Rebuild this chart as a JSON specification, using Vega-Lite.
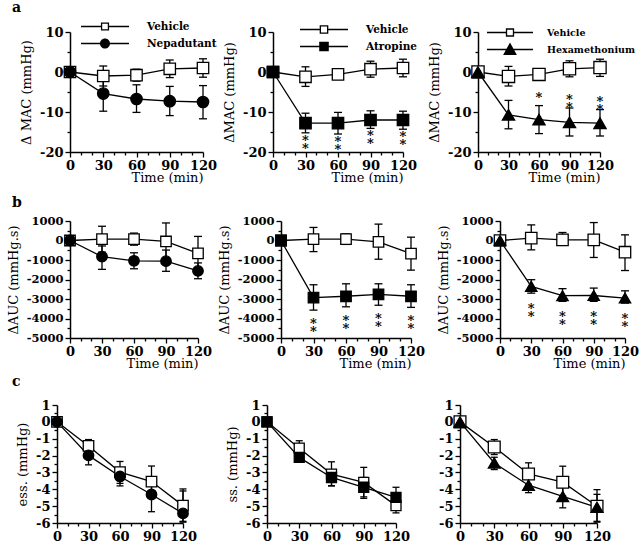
{
"$schema":"https://vega.github.io/schema/vega-lite/v6.json",
"autosize":{"type":"none"},
"padding":{"left":26,"top":32,"right":614,"bottom":518},
"background":"white",
"config":{
 "view":{"stroke":null},
 "font":"DejaVu Serif",
 "axis":{"domainColor":"black","domainWidth":1.5,"tickColor":"black","tickWidth":1.3,"labelColor":"black","labelFont":"DejaVu Serif","labelFontWeight":"bold","labelFontSize":13,"titleFont":"DejaVu Serif","titleFontWeight":"normal","titleFontSize":13,"titleColor":"black","grid":false,"labelOverlap":false,"labelPadding":2,"labelFlush":false},
 "axisY":{"titlePadding":6},
 "title":{"color":"black"},
 "legend":{"title":null,"orient":"none","padding":0,"labelFont":"DejaVu Serif","labelFontWeight":"bold","labelFontSize":10.5,"labelColor":"black","symbolOpacity":1,"symbolSize":2304,"clipHeight":15,"rowPadding":2}
},
"datasets":{
"a1":[
{"t":0,"s":"Vehicle","m":0,"lo":null,"hi":null},
{"t":30,"s":"Vehicle","m":-1.0,"lo":-3.5,"hi":1.5},
{"t":60,"s":"Vehicle","m":-0.8,"lo":-2.3,"hi":0.7},
{"t":90,"s":"Vehicle","m":0.8,"lo":-1.4,"hi":3.0},
{"t":120,"s":"Vehicle","m":1.0,"lo":-1.3,"hi":3.3},
{"t":0,"s":"Nepadutant","m":0,"lo":null,"hi":null},
{"t":30,"s":"Nepadutant","m":-5.4,"lo":-9.8,"hi":-1.0},
{"t":60,"s":"Nepadutant","m":-6.75,"lo":-10.1,"hi":-3.2},
{"t":90,"s":"Nepadutant","m":-7.3,"lo":-10.9,"hi":-3.6},
{"t":120,"s":"Nepadutant","m":-7.5,"lo":-11.7,"hi":-3.4}
],
"a2":[
{"t":0,"s":"Vehicle","m":0,"lo":null,"hi":null,"sig":""},
{"t":30,"s":"Vehicle","m":-1.2,"lo":-3.6,"hi":1.3,"sig":""},
{"t":60,"s":"Vehicle","m":-0.6,"lo":-1.8,"hi":0.6,"sig":""},
{"t":90,"s":"Vehicle","m":0.7,"lo":-1.3,"hi":2.7,"sig":""},
{"t":120,"s":"Vehicle","m":1.0,"lo":-1.2,"hi":3.2,"sig":""},
{"t":0,"s":"Atropine","m":0,"lo":null,"hi":null,"sig":""},
{"t":30,"s":"Atropine","m":-12.8,"lo":-15.2,"hi":-10.3,"sig":"*\n*"},
{"t":60,"s":"Atropine","m":-12.8,"lo":-15.5,"hi":-10.1,"sig":"*\n*"},
{"t":90,"s":"Atropine","m":-12.0,"lo":-14.1,"hi":-9.7,"sig":"*\n*"},
{"t":120,"s":"Atropine","m":-12.0,"lo":-14.3,"hi":-9.8,"sig":"*\n*"}
],
"a3":[
{"t":0,"s":"Vehicle","m":0,"lo":null,"hi":null,"sig":""},
{"t":30,"s":"Vehicle","m":-1.1,"lo":-3.5,"hi":1.4,"sig":""},
{"t":60,"s":"Vehicle","m":-0.6,"lo":-1.4,"hi":0.2,"sig":""},
{"t":90,"s":"Vehicle","m":0.8,"lo":-1.2,"hi":2.8,"sig":""},
{"t":120,"s":"Vehicle","m":1.1,"lo":-1.1,"hi":3.2,"sig":""},
{"t":0,"s":"Hexamethonium","m":0,"lo":null,"hi":null,"sig":""},
{"t":30,"s":"Hexamethonium","m":-10.7,"lo":-14.2,"hi":-7.1,"sig":""},
{"t":60,"s":"Hexamethonium","m":-11.9,"lo":-15.4,"hi":-8.4,"sig":"*"},
{"t":90,"s":"Hexamethonium","m":-12.6,"lo":-16.0,"hi":-9.0,"sig":"*\n*"},
{"t":120,"s":"Hexamethonium","m":-12.8,"lo":-16.0,"hi":-9.4,"sig":"*\n*"}
],
"b1":[
{"t":0,"s":"Vehicle","m":0,"lo":null,"hi":null},
{"t":30,"s":"Vehicle","m":70,"lo":-600,"hi":730},
{"t":60,"s":"Vehicle","m":70,"lo":-240,"hi":380},
{"t":90,"s":"Vehicle","m":-50,"lo":-1000,"hi":900},
{"t":120,"s":"Vehicle","m":-660,"lo":-1450,"hi":210},
{"t":0,"s":"Nepadutant","m":0,"lo":null,"hi":null},
{"t":30,"s":"Nepadutant","m":-830,"lo":-1480,"hi":-280},
{"t":60,"s":"Nepadutant","m":-1040,"lo":-1450,"hi":-630},
{"t":90,"s":"Nepadutant","m":-1060,"lo":-1580,"hi":-490},
{"t":120,"s":"Nepadutant","m":-1560,"lo":-1960,"hi":-1150}
],
"b2":[
{"t":0,"s":"Vehicle","m":0,"lo":null,"hi":null,"sig":""},
{"t":30,"s":"Vehicle","m":70,"lo":-570,"hi":670,"sig":""},
{"t":60,"s":"Vehicle","m":70,"lo":-200,"hi":340,"sig":""},
{"t":90,"s":"Vehicle","m":-70,"lo":-960,"hi":840,"sig":""},
{"t":120,"s":"Vehicle","m":-670,"lo":-1520,"hi":170,"sig":""},
{"t":0,"s":"Atropine","m":0,"lo":null,"hi":null,"sig":""},
{"t":30,"s":"Atropine","m":-2930,"lo":-3570,"hi":-2270,"sig":"*\n*"},
{"t":60,"s":"Atropine","m":-2860,"lo":-3400,"hi":-2220,"sig":"*\n*"},
{"t":90,"s":"Atropine","m":-2760,"lo":-3320,"hi":-2220,"sig":"*\n*"},
{"t":120,"s":"Atropine","m":-2860,"lo":-3430,"hi":-2270,"sig":"*\n*"}
],
"b3":[
{"t":0,"s":"Vehicle","m":0,"lo":null,"hi":null,"sig":""},
{"t":30,"s":"Vehicle","m":120,"lo":-480,"hi":800,"sig":""},
{"t":60,"s":"Vehicle","m":30,"lo":-220,"hi":410,"sig":""},
{"t":90,"s":"Vehicle","m":30,"lo":-870,"hi":920,"sig":""},
{"t":120,"s":"Vehicle","m":-600,"lo":-1540,"hi":290,"sig":""},
{"t":0,"s":"Hexamethonium","m":0,"lo":null,"hi":null,"sig":""},
{"t":30,"s":"Hexamethonium","m":-2350,"lo":-2700,"hi":-2010,"sig":"*\n*"},
{"t":60,"s":"Hexamethonium","m":-2830,"lo":-3120,"hi":-2470,"sig":"*\n*"},
{"t":90,"s":"Hexamethonium","m":-2820,"lo":-3120,"hi":-2440,"sig":"*\n*"},
{"t":120,"s":"Hexamethonium","m":-2950,"lo":-3210,"hi":-2580,"sig":"*\n*"}
],
"c1":[
{"t":0,"s":"Vehicle","m":0,"lo":null,"hi":null},
{"t":30,"s":"Vehicle","m":-1.43,"lo":-1.85,"hi":-1.05},
{"t":60,"s":"Vehicle","m":-2.98,"lo":-3.65,"hi":-2.35},
{"t":90,"s":"Vehicle","m":-3.54,"lo":-4.3,"hi":-2.62},
{"t":120,"s":"Vehicle","m":-4.97,"lo":-5.9,"hi":-3.98},
{"t":0,"s":"Nepadutant","m":0,"lo":null,"hi":null},
{"t":30,"s":"Nepadutant","m":-1.99,"lo":-2.55,"hi":-1.6},
{"t":60,"s":"Nepadutant","m":-3.24,"lo":-3.8,"hi":-2.8},
{"t":90,"s":"Nepadutant","m":-4.31,"lo":-5.33,"hi":-3.3},
{"t":120,"s":"Nepadutant","m":-5.43,"lo":-5.95,"hi":-4.1}
],
"c2":[
{"t":0,"s":"Vehicle","m":0,"lo":null,"hi":null},
{"t":30,"s":"Vehicle","m":-1.56,"lo":-2.0,"hi":-1.12},
{"t":60,"s":"Vehicle","m":-3.1,"lo":-3.8,"hi":-2.37},
{"t":90,"s":"Vehicle","m":-3.59,"lo":-4.45,"hi":-2.7},
{"t":120,"s":"Vehicle","m":-4.97,"lo":-5.4,"hi":-4.2},
{"t":0,"s":"Atropine","m":0,"lo":null,"hi":null},
{"t":30,"s":"Atropine","m":-2.11,"lo":-2.3,"hi":-1.9},
{"t":60,"s":"Atropine","m":-3.3,"lo":-3.79,"hi":-2.9},
{"t":90,"s":"Atropine","m":-3.88,"lo":-4.54,"hi":-3.3},
{"t":120,"s":"Atropine","m":-4.48,"lo":-5.0,"hi":-3.88}
],
"c3":[
{"t":0,"s":"Vehicle","m":0,"lo":null,"hi":null},
{"t":30,"s":"Vehicle","m":-1.49,"lo":-1.94,"hi":-1.05},
{"t":60,"s":"Vehicle","m":-3.09,"lo":-3.7,"hi":-2.43},
{"t":90,"s":"Vehicle","m":-3.58,"lo":-4.4,"hi":-2.63},
{"t":120,"s":"Vehicle","m":-5.01,"lo":-5.95,"hi":-4.02},
{"t":0,"s":"Hexamethonium","m":0,"lo":null,"hi":null},
{"t":30,"s":"Hexamethonium","m":-2.44,"lo":-2.83,"hi":-2.1},
{"t":60,"s":"Hexamethonium","m":-3.76,"lo":-4.2,"hi":-3.35},
{"t":90,"s":"Hexamethonium","m":-4.42,"lo":-5.1,"hi":-3.85},
{"t":120,"s":"Hexamethonium","m":-5.07,"lo":-5.9,"hi":-4.3}
]
},
"spacing":12,
"resolve":{"scale":{"shape":"independent"},"legend":{"shape":"independent"}},
"vconcat":[
{"spacing":30,"bounds":"flush",
 "resolve":{"scale":{"shape":"independent"},"legend":{"shape":"independent"}},
 "hconcat":[
 {"width":14,"height":1,"data":{"values":[]},"mark":"point"},
 {"width":133,"height":120,"data":{"name":"a1"},
   "title":{"text":"a","anchor":"start","frame":"group","dx":-58,"fontSize":14,"font":"DejaVu Serif","fontWeight":"bold","offset":4},
   "resolve":{"axis":{"y":"independent"},"scale":{"shape":"independent"},"legend":{"shape":"independent"}},
   "encoding":{"x":{"field":"t","type":"quantitative","scale":{"domain":[0,120],"nice":false},"axis":{"values":[0,10,20,30,40,50,60,70,80,90,100,110,120],"labelOverlap":false,"labelExpr":"datum.value % 30 === 0 ? datum.label : ''","tickSize":{"condition":{"test":"datum.value % 30 === 0","value":5},"value":3},"title":"Time (min)","titleAnchor":"end","titlePadding":-1}}},
   "layer":[
    {"mark":{"type":"line","color":"black","strokeWidth":1.3},"encoding":{"y":{"field":"m","type":"quantitative","title":"Δ MAC (mmHg)","scale":{"domain":[-20,10],"nice":false,"zero":false},"axis":{"values":[-20,-10,0,10],"labelExpr":"'' + datum.value","tickSize":5,"orient":"left"}},"detail":{"field":"s"}}},
    {"transform":[{"filter":"datum.lo != null"}],"mark":{"type":"rule","color":"black","strokeWidth":1.3},"encoding":{"y":{"field":"lo","type":"quantitative","axis":{"values":[-15,-5,5],"labels":false,"domain":false,"tickSize":3,"title":null,"orient":"left"}},"y2":{"field":"hi"}}},
    {"transform":[{"filter":"datum.lo != null"}],"mark":{"type":"tick","orient":"horizontal","color":"black","size":8,"thickness":1.3,"opacity":1},"encoding":{"y":{"field":"lo","type":"quantitative","axis":null}}},
    {"transform":[{"filter":"datum.hi != null"}],"mark":{"type":"tick","orient":"horizontal","color":"black","size":8,"thickness":1.3,"opacity":1},"encoding":{"y":{"field":"hi","type":"quantitative","axis":null}}},
    {"mark":{"type":"point","filled":false,"opacity":1,"stroke":"black","strokeWidth":1.3,"size":130},"encoding":{"y":{"field":"m","type":"quantitative","axis":null},
      "shape":{"field":"s","type":"nominal","scale":{"domain":["Vehicle","Nepadutant"],"range":["square","circle"]},"legend":null},
      "fill":{"condition":{"test":"datum.s === 'Vehicle'","value":"white"},"value":"black"}}},
    {"transform":[{"filter":"datum.t < 0"}],"mark":{"type":"point","filled":true,"color":"black","opacity":1,"size":2304},"encoding":{"y":{"field":"m","type":"quantitative","axis":null},
      "shape":{"field":"s","type":"nominal","scale":{"domain":["Vehicle","Nepadutant"],"range":["M-1,-0.027H-0.17V0.027H-1ZM0.17,-0.027H1V0.027H0.17ZM-0.17,-0.17H0.17V0.17H-0.17ZM-0.116,-0.116V0.116H0.116V-0.116Z","M-1,-0.027H-0.2V0.027H-1ZM0.2,-0.027H1V0.027H0.2ZM0.21,0A0.21,0.21 0 1,1 -0.21,0A0.21,0.21 0 1,1 0.21,0Z"]},
        "legend":{"legendX":10,"legendY":-13,"labelOffset":17,"symbolSize":2304,"symbolOpacity":1}}}}
   ]},
 {"width":10,"height":1,"data":{"values":[]},"mark":"point"},
 {"width":130,"height":120,"data":{"name":"a2"},
   "resolve":{"axis":{"y":"independent"},"scale":{"shape":"independent"},"legend":{"shape":"independent"}},
    "encoding":{"x":{"field":"t","type":"quantitative","scale":{"domain":[0,120],"nice":false},"axis":{"values":[0,10,20,30,40,50,60,70,80,90,100,110,120],"labelOverlap":false,"labelExpr":"datum.value % 30 === 0 ? datum.label : ''","tickSize":{"condition":{"test":"datum.value % 30 === 0","value":5},"value":3},"title":"Time (min)","titleAnchor":"end","titlePadding":-1}}},
    "layer":[
     {"mark":{"type":"line","color":"black","strokeWidth":1.3},"encoding":{"y":{"field":"m","type":"quantitative","title":"ΔMAC (mmHg)","scale":{"domain":[-20,10],"nice":false,"zero":false},"axis":{"values":[-20,-10,0,10],"labelExpr":"'' + datum.value","tickSize":5,"orient":"left"}},"detail":{"field":"s"}}},
     {"transform":[{"filter":"datum.lo != null"}],"mark":{"type":"rule","color":"black","strokeWidth":1.3},"encoding":{"y":{"field":"lo","type":"quantitative","axis":{"values":[-15,-5,5],"labels":false,"domain":false,"tickSize":3,"title":null,"orient":"left"}},"y2":{"field":"hi"}}},
     {"transform":[{"filter":"datum.lo != null"}],"mark":{"type":"tick","orient":"horizontal","color":"black","size":8,"thickness":1.3,"opacity":1},"encoding":{"y":{"field":"lo","type":"quantitative","axis":null}}},
     {"transform":[{"filter":"datum.hi != null"}],"mark":{"type":"tick","orient":"horizontal","color":"black","size":8,"thickness":1.3,"opacity":1},"encoding":{"y":{"field":"hi","type":"quantitative","axis":null}}},
     {"mark":{"type":"point","filled":false,"opacity":1,"stroke":"black","strokeWidth":1.3,"size":130},"encoding":{"y":{"field":"m","type":"quantitative","axis":null},
       "shape":{"field":"s","type":"nominal","scale":{"domain":["Vehicle","Atropine"],"range":["square","square"]},"legend":null},
       "fill":{"condition":{"test":"datum.s === 'Vehicle'","value":"white"},"value":"black"}}},
     {"transform":[{"filter":"datum.sig != null && datum.sig != ''"}],"mark":{"type":"text","baseline":"top","dy":2,"fontSize":13,"font":"DejaVu Serif","fontWeight":"bold","lineBreak":"\n","lineHeight":8,"fill":"black"},"encoding":{"y":{"field":"lo","type":"quantitative","axis":null},"text":{"field":"sig"}}},
     {"transform":[{"filter":"datum.t < 0"}],"mark":{"type":"point","filled":true,"color":"black","opacity":1,"size":2304},"encoding":{"y":{"field":"m","type":"quantitative","axis":null},
       "shape":{"field":"s","type":"nominal","scale":{"domain":["Vehicle","Atropine"],"range":["M-1,-0.027H-0.18V0.027H-1ZM0.18,-0.027H1V0.027H0.18ZM-0.18,-0.18H0.18V0.18H-0.18ZM-0.126,-0.126V0.126H0.126V-0.126Z","M-1,-0.027H-0.18V0.027H-1ZM0.18,-0.027H1V0.027H0.18ZM-0.2,-0.2H0.2V0.2H-0.2Z"]},
         "legend":{"legendX":26,"legendY":-10,"labelOffset":17,"symbolSize":2304,"symbolOpacity":1}}}}
    ]},
 {"width":15,"height":1,"data":{"values":[]},"mark":"point"},
 {"width":122,"height":120,"data":{"name":"a3"},
   "resolve":{"axis":{"y":"independent"},"scale":{"shape":"independent"},"legend":{"shape":"independent"}},
    "encoding":{"x":{"field":"t","type":"quantitative","scale":{"domain":[0,120],"nice":false},"axis":{"values":[0,10,20,30,40,50,60,70,80,90,100,110,120],"labelOverlap":false,"labelExpr":"datum.value % 30 === 0 ? datum.label : ''","tickSize":{"condition":{"test":"datum.value % 30 === 0","value":5},"value":3},"title":"Time (min)","titleAnchor":"end","titlePadding":-1}}},
    "layer":[
     {"mark":{"type":"line","color":"black","strokeWidth":1.3},"encoding":{"y":{"field":"m","type":"quantitative","title":"ΔMAC (mmHg)","scale":{"domain":[-20,10],"nice":false,"zero":false},"axis":{"values":[-20,-10,0,10],"labelExpr":"'' + datum.value","tickSize":5,"orient":"left"}},"detail":{"field":"s"}}},
     {"transform":[{"filter":"datum.lo != null"}],"mark":{"type":"rule","color":"black","strokeWidth":1.3},"encoding":{"y":{"field":"lo","type":"quantitative","axis":{"values":[-15,-5,5],"labels":false,"domain":false,"tickSize":3,"title":null,"orient":"left"}},"y2":{"field":"hi"}}},
     {"transform":[{"filter":"datum.lo != null"}],"mark":{"type":"tick","orient":"horizontal","color":"black","size":8,"thickness":1.3,"opacity":1},"encoding":{"y":{"field":"lo","type":"quantitative","axis":null}}},
     {"transform":[{"filter":"datum.hi != null"}],"mark":{"type":"tick","orient":"horizontal","color":"black","size":8,"thickness":1.3,"opacity":1},"encoding":{"y":{"field":"hi","type":"quantitative","axis":null}}},
     {"mark":{"type":"point","filled":false,"opacity":1,"stroke":"black","strokeWidth":1.3,"size":150},"encoding":{"y":{"field":"m","type":"quantitative","axis":null},
       "shape":{"field":"s","type":"nominal","scale":{"domain":["Vehicle","Hexamethonium"],"range":["square","triangle-up"]},"legend":null},
       "fill":{"condition":{"test":"datum.s === 'Vehicle'","value":"white"},"value":"black"}}},
     {"transform":[{"filter":"datum.sig != null && datum.sig != ''"}],"mark":{"type":"text","baseline":"bottom","dy":-1,"fontSize":13,"font":"DejaVu Serif","fontWeight":"bold","lineBreak":"\n","lineHeight":8,"fill":"black"},"encoding":{"y":{"field":"hi","type":"quantitative","axis":null},"text":{"field":"sig"}}},
     {"transform":[{"filter":"datum.t < 0"}],"mark":{"type":"point","filled":true,"color":"black","opacity":1,"size":2116},"encoding":{"y":{"field":"m","type":"quantitative","axis":null},
       "shape":{"field":"s","type":"nominal","scale":{"domain":["Vehicle","Hexamethonium"],"range":["M-1,-0.028H-0.18V0.028H-1ZM0.18,-0.028H1V0.028H0.18ZM-0.18,-0.18H0.18V0.18H-0.18ZM-0.123,-0.123V0.123H0.123V-0.123Z","M-1,-0.028H-0.1V0.028H-1ZM0.1,-0.028H1V0.028H0.1ZM0,-0.3L0.3,0.24L-0.3,0.24Z"]},
         "legend":{"legendX":8,"legendY":-7,"labelOffset":13,"symbolSize":2116,"symbolOpacity":1,"labelFontSize":9.5}}}}
    ]}
 ]},
{"spacing":5,
 "resolve":{"scale":{"shape":"independent"},"legend":{"shape":"independent"}},
 "vconcat":[
{"spacing":30,"bounds":"flush",
 "resolve":{"scale":{"shape":"independent"},"legend":{"shape":"independent"}},
 "hconcat":[
 {"width":14,"height":1,"data":{"values":[]},"mark":"point"},
 {"width":128,"height":117,"data":{"name":"b1"},
   "title":{"text":"b","anchor":"start","frame":"group","dx":-58,"fontSize":14,"font":"DejaVu Serif","fontWeight":"bold","offset":5},
   "resolve":{"axis":{"y":"independent"}},
   "encoding":{"x":{"field":"t","type":"quantitative","scale":{"domain":[0,120],"nice":false},"axis":{"values":[0,10,20,30,40,50,60,70,80,90,100,110,120],"labelOverlap":false,"labelExpr":"datum.value % 30 === 0 ? datum.label : ''","tickSize":{"condition":{"test":"datum.value % 30 === 0","value":5},"value":3},"title":"Time (min)","titleAnchor":"end","titlePadding":-1}}},
   "layer":[
    {"mark":{"type":"line","color":"black","strokeWidth":1.3},"encoding":{"y":{"field":"m","type":"quantitative","title":"ΔAUC (mmHg.s)","scale":{"domain":[-5000,1000],"nice":false,"zero":false},"axis":{"values":[-5000,-4000,-3000,-2000,-1000,0,1000],"labelExpr":"'' + datum.value","labelFontSize":11.5,"tickSize":5,"orient":"left"}},"detail":{"field":"s"}}},
    {"transform":[{"filter":"datum.lo != null"}],"mark":{"type":"rule","color":"black","strokeWidth":1.3},"encoding":{"y":{"field":"lo","type":"quantitative","axis":{"values":[-4500,-3500,-2500,-1500,-500,500],"labels":false,"domain":false,"tickSize":3,"title":null,"orient":"left"}},"y2":{"field":"hi"}}},
    {"transform":[{"filter":"datum.lo != null"}],"mark":{"type":"tick","orient":"horizontal","color":"black","size":8,"thickness":1.3,"opacity":1},"encoding":{"y":{"field":"lo","type":"quantitative","axis":null}}},
    {"transform":[{"filter":"datum.hi != null"}],"mark":{"type":"tick","orient":"horizontal","color":"black","size":8,"thickness":1.3,"opacity":1},"encoding":{"y":{"field":"hi","type":"quantitative","axis":null}}},
    {"mark":{"type":"point","filled":false,"opacity":1,"stroke":"black","strokeWidth":1.3,"size":110},"encoding":{"y":{"field":"m","type":"quantitative","axis":null},
      "shape":{"field":"s","type":"nominal","scale":{"domain":["Vehicle","Nepadutant"],"range":["square","circle"]},"legend":null},
      "fill":{"condition":{"test":"datum.s === 'Vehicle'","value":"white"},"value":"black"}}}
   ]},
 {"width":23,"height":1,"data":{"values":[]},"mark":"point"},
 {"width":130,"height":117,"data":{"name":"b2"},
   "resolve":{"axis":{"y":"independent"}},
    "encoding":{"x":{"field":"t","type":"quantitative","scale":{"domain":[0,120],"nice":false},"axis":{"values":[0,10,20,30,40,50,60,70,80,90,100,110,120],"labelOverlap":false,"labelExpr":"datum.value % 30 === 0 ? datum.label : ''","tickSize":{"condition":{"test":"datum.value % 30 === 0","value":5},"value":3},"title":"Time (min)","titleAnchor":"end","titlePadding":-1}}},
    "layer":[
     {"mark":{"type":"line","color":"black","strokeWidth":1.3},"encoding":{"y":{"field":"m","type":"quantitative","title":"ΔAUC (mmHg.s)","scale":{"domain":[-5000,1000],"nice":false,"zero":false},"axis":{"values":[-5000,-4000,-3000,-2000,-1000,0,1000],"labelExpr":"'' + datum.value","labelFontSize":11.5,"tickSize":5,"orient":"left"}},"detail":{"field":"s"}}},
     {"transform":[{"filter":"datum.lo != null"}],"mark":{"type":"rule","color":"black","strokeWidth":1.3},"encoding":{"y":{"field":"lo","type":"quantitative","axis":{"values":[-4500,-3500,-2500,-1500,-500,500],"labels":false,"domain":false,"tickSize":3,"title":null,"orient":"left"}},"y2":{"field":"hi"}}},
     {"transform":[{"filter":"datum.lo != null"}],"mark":{"type":"tick","orient":"horizontal","color":"black","size":8,"thickness":1.3,"opacity":1},"encoding":{"y":{"field":"lo","type":"quantitative","axis":null}}},
     {"transform":[{"filter":"datum.hi != null"}],"mark":{"type":"tick","orient":"horizontal","color":"black","size":8,"thickness":1.3,"opacity":1},"encoding":{"y":{"field":"hi","type":"quantitative","axis":null}}},
     {"mark":{"type":"point","filled":false,"opacity":1,"stroke":"black","strokeWidth":1.3,"size":110},"encoding":{"y":{"field":"m","type":"quantitative","axis":null},
       "shape":{"field":"s","type":"nominal","scale":{"domain":["Vehicle","Atropine"],"range":["square","square"]},"legend":null},
       "fill":{"condition":{"test":"datum.s === 'Vehicle'","value":"white"},"value":"black"}}},
     {"transform":[{"filter":"datum.sig != null && datum.sig != ''"}],"mark":{"type":"text","baseline":"top","dy":8,"fontSize":13,"font":"DejaVu Serif","fontWeight":"bold","lineBreak":"\n","lineHeight":8,"fill":"black"},"encoding":{"y":{"field":"lo","type":"quantitative","axis":null},"text":{"field":"sig"}}}
    ]},
 {"width":29,"height":1,"data":{"values":[]},"mark":"point"},
 {"width":125,"height":117,"data":{"name":"b3"},
   "resolve":{"axis":{"y":"independent"}},
    "encoding":{"x":{"field":"t","type":"quantitative","scale":{"domain":[0,120],"nice":false},"axis":{"values":[0,10,20,30,40,50,60,70,80,90,100,110,120],"labelOverlap":false,"labelExpr":"datum.value % 30 === 0 ? datum.label : ''","tickSize":{"condition":{"test":"datum.value % 30 === 0","value":5},"value":3},"title":"Time (min)","titleAnchor":"end","titlePadding":-1}}},
    "layer":[
     {"mark":{"type":"line","color":"black","strokeWidth":1.3},"encoding":{"y":{"field":"m","type":"quantitative","title":"ΔAUC (mmHg.s)","scale":{"domain":[-5000,1000],"nice":false,"zero":false},"axis":{"values":[-5000,-4000,-3000,-2000,-1000,0,1000],"labelExpr":"'' + datum.value","labelFontSize":11.5,"tickSize":5,"orient":"left"}},"detail":{"field":"s"}}},
     {"transform":[{"filter":"datum.lo != null"}],"mark":{"type":"rule","color":"black","strokeWidth":1.3},"encoding":{"y":{"field":"lo","type":"quantitative","axis":{"values":[-4500,-3500,-2500,-1500,-500,500],"labels":false,"domain":false,"tickSize":3,"title":null,"orient":"left"}},"y2":{"field":"hi"}}},
     {"transform":[{"filter":"datum.lo != null"}],"mark":{"type":"tick","orient":"horizontal","color":"black","size":8,"thickness":1.3,"opacity":1},"encoding":{"y":{"field":"lo","type":"quantitative","axis":null}}},
     {"transform":[{"filter":"datum.hi != null"}],"mark":{"type":"tick","orient":"horizontal","color":"black","size":8,"thickness":1.3,"opacity":1},"encoding":{"y":{"field":"hi","type":"quantitative","axis":null}}},
     {"mark":{"type":"point","filled":false,"opacity":1,"stroke":"black","strokeWidth":1.3,"size":130},"encoding":{"y":{"field":"m","type":"quantitative","axis":null},
       "shape":{"field":"s","type":"nominal","scale":{"domain":["Vehicle","Hexamethonium"],"range":["square","triangle-up"]},"legend":null},
       "fill":{"condition":{"test":"datum.s === 'Vehicle'","value":"white"},"value":"black"}}},
     {"transform":[{"filter":"datum.sig != null && datum.sig != ''"}],"mark":{"type":"text","baseline":"top","dy":10,"fontSize":13,"font":"DejaVu Serif","fontWeight":"bold","lineBreak":"\n","lineHeight":8,"fill":"black"},"encoding":{"y":{"field":"lo","type":"quantitative","axis":null},"text":{"field":"sig"}}}
    ]}
 ]},
{"spacing":30,"bounds":"flush",
 "resolve":{"scale":{"shape":"independent"},"legend":{"shape":"independent"}},
 "hconcat":[
 {"width":1,"height":1,"data":{"values":[]},"mark":"point"},
 {"width":126,"height":118,"data":{"name":"c1"},
  "title":{"text":"c","anchor":"start","frame":"group","dx":-45,"fontSize":14,"font":"DejaVu Serif","fontWeight":"bold","offset":10},
  "resolve":{"axis":{"y":"independent"}},
  "encoding":{"x":{"field":"t","type":"quantitative","scale":{"domain":[0,120],"nice":false},"axis":{"values":[0,10,20,30,40,50,60,70,80,90,100,110,120],"labelOverlap":false,"labelExpr":"datum.value % 30 === 0 ? datum.label : ''","tickSize":{"condition":{"test":"datum.value % 30 === 0","value":5},"value":3},"title":null}}},
  "layer":[
   {"mark":{"type":"line","color":"black","strokeWidth":1.3},"encoding":{"y":{"field":"m","type":"quantitative","title":"ess. (mmHg)","scale":{"domain":[-6,1],"nice":false,"zero":false},"axis":{"values":[-6,-5,-4,-3,-2,-1,0,1],"labelExpr":"'' + datum.value","tickSize":5,"orient":"left"}},"detail":{"field":"s"}}},
   {"transform":[{"filter":"datum.lo != null"}],"mark":{"type":"rule","color":"black","strokeWidth":1.3},"encoding":{"y":{"field":"lo","type":"quantitative","axis":{"values":[-5.5,-4.5,-3.5,-2.5,-1.5,-0.5,0.5],"labels":false,"domain":false,"tickSize":3,"title":null,"orient":"left"}},"y2":{"field":"hi"}}},
   {"transform":[{"filter":"datum.lo != null"}],"mark":{"type":"tick","orient":"horizontal","color":"black","size":7,"thickness":1.3,"opacity":1},"encoding":{"y":{"field":"lo","type":"quantitative","axis":null}}},
   {"transform":[{"filter":"datum.hi != null"}],"mark":{"type":"tick","orient":"horizontal","color":"black","size":7,"thickness":1.3,"opacity":1},"encoding":{"y":{"field":"hi","type":"quantitative","axis":null}}},
   {"mark":{"type":"point","filled":false,"opacity":1,"stroke":"black","strokeWidth":1.3,"size":110},"encoding":{"y":{"field":"m","type":"quantitative","axis":null},
     "shape":{"field":"s","type":"nominal","scale":{"domain":["Vehicle","Nepadutant"],"range":["square","circle"]},"legend":null},
     "fill":{"condition":{"test":"datum.s === 'Vehicle'","value":"white"},"value":"black"}}}
  ]},
 {"width":24,"height":1,"data":{"values":[]},"mark":"point"},
 {"width":129,"height":118,"data":{"name":"c2"},
   "resolve":{"axis":{"y":"independent"}},
   "encoding":{"x":{"field":"t","type":"quantitative","scale":{"domain":[0,120],"nice":false},"axis":{"values":[0,10,20,30,40,50,60,70,80,90,100,110,120],"labelOverlap":false,"labelExpr":"datum.value % 30 === 0 ? datum.label : ''","tickSize":{"condition":{"test":"datum.value % 30 === 0","value":5},"value":3},"title":null}}},
   "layer":[
    {"mark":{"type":"line","color":"black","strokeWidth":1.3},"encoding":{"y":{"field":"m","type":"quantitative","title":"ss. (mmHg)","scale":{"domain":[-6,1],"nice":false,"zero":false},"axis":{"values":[-6,-5,-4,-3,-2,-1,0,1],"labelExpr":"'' + datum.value","tickSize":5,"orient":"left"}},"detail":{"field":"s"}}},
    {"transform":[{"filter":"datum.lo != null"}],"mark":{"type":"rule","color":"black","strokeWidth":1.3},"encoding":{"y":{"field":"lo","type":"quantitative","axis":{"values":[-5.5,-4.5,-3.5,-2.5,-1.5,-0.5,0.5],"labels":false,"domain":false,"tickSize":3,"title":null,"orient":"left"}},"y2":{"field":"hi"}}},
    {"transform":[{"filter":"datum.lo != null"}],"mark":{"type":"tick","orient":"horizontal","color":"black","size":7,"thickness":1.3,"opacity":1},"encoding":{"y":{"field":"lo","type":"quantitative","axis":null}}},
    {"transform":[{"filter":"datum.hi != null"}],"mark":{"type":"tick","orient":"horizontal","color":"black","size":7,"thickness":1.3,"opacity":1},"encoding":{"y":{"field":"hi","type":"quantitative","axis":null}}},
    {"mark":{"type":"point","filled":false,"opacity":1,"stroke":"black","strokeWidth":1.3,"size":100},"encoding":{"y":{"field":"m","type":"quantitative","axis":null},
      "shape":{"field":"s","type":"nominal","scale":{"domain":["Vehicle","Atropine"],"range":["square","square"]},"legend":null},
      "fill":{"condition":{"test":"datum.s === 'Vehicle'","value":"white"},"value":"black"}}}
   ]},
 {"width":4,"height":1,"data":{"values":[]},"mark":"point"},
 {"width":137,"height":118,"data":{"name":"c3"},
   "resolve":{"axis":{"y":"independent"}},
   "encoding":{"x":{"field":"t","type":"quantitative","scale":{"domain":[0,120],"nice":false},"axis":{"values":[0,10,20,30,40,50,60,70,80,90,100,110,120],"labelOverlap":false,"labelExpr":"datum.value % 30 === 0 ? datum.label : ''","tickSize":{"condition":{"test":"datum.value % 30 === 0","value":5},"value":3},"title":null}}},
   "layer":[
    {"mark":{"type":"line","color":"black","strokeWidth":1.3},"encoding":{"y":{"field":"m","type":"quantitative","title":null,"scale":{"domain":[-6,1],"nice":false,"zero":false},"axis":{"values":[-6,-5,-4,-3,-2,-1,0,1],"labelExpr":"'' + datum.value","tickSize":5,"orient":"left"}},"detail":{"field":"s"}}},
    {"transform":[{"filter":"datum.lo != null"}],"mark":{"type":"rule","color":"black","strokeWidth":1.3},"encoding":{"y":{"field":"lo","type":"quantitative","axis":{"values":[-5.5,-4.5,-3.5,-2.5,-1.5,-0.5,0.5],"labels":false,"domain":false,"tickSize":3,"title":null,"orient":"left"}},"y2":{"field":"hi"}}},
    {"transform":[{"filter":"datum.lo != null"}],"mark":{"type":"tick","orient":"horizontal","color":"black","size":7,"thickness":1.3,"opacity":1},"encoding":{"y":{"field":"lo","type":"quantitative","axis":null}}},
    {"transform":[{"filter":"datum.hi != null"}],"mark":{"type":"tick","orient":"horizontal","color":"black","size":7,"thickness":1.3,"opacity":1},"encoding":{"y":{"field":"hi","type":"quantitative","axis":null}}},
    {"mark":{"type":"point","filled":false,"opacity":1,"stroke":"black","strokeWidth":1.3,"size":140},"encoding":{"y":{"field":"m","type":"quantitative","axis":null},
      "shape":{"field":"s","type":"nominal","scale":{"domain":["Vehicle","Hexamethonium"],"range":["square","triangle-up"]},"legend":null},
      "fill":{"condition":{"test":"datum.s === 'Vehicle'","value":"white"},"value":"black"}}}
   ]}
 ]}
 ]}
]
}
